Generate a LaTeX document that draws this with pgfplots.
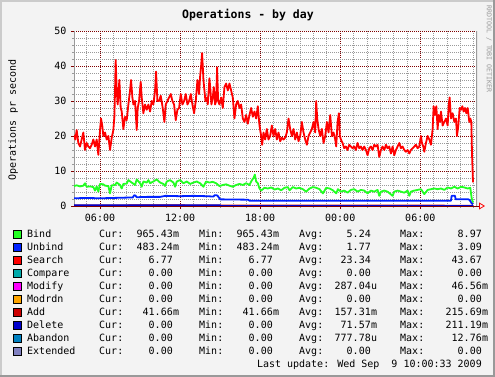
\documentclass[border=0pt]{standalone}
\usepackage{fontspec}
\setmainfont{DejaVu Sans Mono}
\usepackage{pgfplots}
\pgfplotsset{compat=1.18}
\usetikzlibrary{arrows.meta}
\definecolor{bgc}{HTML}{F3F3F3}
\definecolor{shA}{HTML}{CBCBCB}
\definecolor{shB}{HTML}{999999}
\definecolor{mgrid}{HTML}{800000}
\definecolor{ngrid}{HTML}{9A9A9A}
\definecolor{cBind}{HTML}{22FF22}
\definecolor{cUnbind}{HTML}{0022FF}
\definecolor{cSearch}{HTML}{FF0000}
\definecolor{cCompare}{HTML}{00AAAA}
\definecolor{cModify}{HTML}{FF00FF}
\definecolor{cModrdn}{HTML}{FFA500}
\definecolor{cAdd}{HTML}{CC0000}
\definecolor{cDelete}{HTML}{0000CC}
\definecolor{cAbandon}{HTML}{0080C0}
\definecolor{cExtended}{HTML}{8080C0}
\newcommand\lf{\fontsize{10}{12}\selectfont}
% row: k, colour, name, cur, min, avg, max  (value written as number|suffix)
\newcommand\legrow[7]{%
  \pgfmathsetmacro\by{237+13*#1}%
  \fill[#2] (13,\by-7) rectangle (21,\by+1);
  \draw[black,line width=0.8pt] (13,\by-7) rectangle (21,\by+1);
  \node[anchor=base west,inner sep=0] at (27,\by) {\lf #3};
  \node[anchor=base west,inner sep=0] at (99,\by) {\lf Cur:};
  \node[anchor=base west,inner sep=0] at (199,\by) {\lf Min:};
  \node[anchor=base west,inner sep=0] at (299,\by) {\lf Avg:};
  \node[anchor=base west,inner sep=0] at (400,\by) {\lf Max:};
  \splitval{173}{\by}#4|%
  \splitval{273}{\by}#5|%
  \splitval{371}{\by}#6|%
  \splitval{482}{\by}#7|%
}
\def\splitval#1#2#3|#4|{%
  \node[anchor=base east,inner sep=0] at (#1,#2) {\lf #3};
  \node[anchor=base west,inner sep=0] at (#1,#2) {\lf #4\strut};
}
\begin{document}
\begin{tikzpicture}
\begin{scope}[x=1pt,y=-1pt]
\path[use as bounding box] (0,0) rectangle (495,377);
\fill[bgc] (0,0) rectangle (495,377);
\fill[shA] (0,0) rectangle (495,2);
\fill[shA] (0,0) rectangle (2,377);
\fill[shB] (0,375) rectangle (495,377);
\fill[shB] (493,0) rectangle (495,377);
\node[anchor=base,inner sep=0] at (248,19) {\fontsize{11.5}{13}\selectfont\bfseries Operations - by day};
\node[rotate=90,inner sep=0] at (13,120) {\lf Operations pr second};
\node[rotate=-90,inner sep=0,text=ngrid] at (489,49) {\fontsize{6.6}{8}\selectfont RRDTOOL / TOBI OETIKER};
\end{scope}
\begin{axis}[
  at={(74pt,-31pt)}, anchor=north west, scale only axis,
  width=403pt, height=175pt,
  xmin=4.05, xmax=34.25, ymin=0, ymax=50,
  axis x line=bottom, axis y line=left,
  x axis line style={draw=mgrid, line width=0.8pt, -{Triangle[open,color=red,length=6pt,width=7pt]}, shorten >=-8pt},
  y axis line style={draw=ngrid, line width=0.8pt, -},
  xtick={6,12,18,24,30},
  xticklabels={06:00,12:00,18:00,00:00,06:00},
  minor xtick={5,7,8,9,10,11,13,14,15,16,17,19,20,21,22,23,25,26,27,28,29,31,32,33,34},
  ytick={0,10,20,30,40,50},
  minor ytick={2,4,6,8,12,14,16,18,22,24,26,28,32,34,36,38,42,44,46,48},
  grid=both,
  major grid style={draw=mgrid, line width=0.8pt, dash pattern=on 1pt off 1pt},
  minor grid style={draw=ngrid, line width=0.8pt, dash pattern=on 1pt off 1pt},
  tick align=outside,
  major tick length=3pt, minor tick length=2pt,
  major tick style={draw=mgrid, line width=0.8pt},
  minor tick style={draw=ngrid, line width=0.8pt},
  tick label style={font=\fontsize{10}{12}\selectfont, /pgf/number format/assume math mode=true},
  yticklabel style={xshift=-1pt},
  xticklabel style={yshift=-2pt},
  axis background/.style={fill=white},
  line join=round,
]
\addplot[cBind, line width=1.8pt] coordinates {
(4.05,5.7)(4.25,5.9)(4.5,5.6)(4.75,5.8)(4.875,6.5)(5.0,5.5)(5.25,5.6)(5.5,5.4)(5.625,4.4)(5.75,5.6)(5.875,4.1)
(6.0,6.3)(6.25,6.2)(6.375,5.8)(6.625,5.7)(6.75,3.6)(6.875,5.9)(7.125,6.0)(7.25,6.7)(7.5,6.0)(7.625,5.0)(7.75,6.3)
(8.0,6.4)(8.125,7.4)(8.375,6.7)(8.625,6.0)(8.75,7.6)(9.0,6.5)(9.125,5.5)(9.25,7.0)(9.5,6.7)(9.625,7.4)(9.75,6.5)
(10.0,7.0)(10.25,7.6)(10.5,6.7)(10.75,6.3)(10.875,5.7)(11.0,7.0)(11.25,7.4)(11.5,6.7)(11.625,5.5)(11.75,7.0)
(12.0,7.4)(12.25,6.5)(12.5,7.0)(12.75,6.3)(13.0,6.7)(13.25,7.0)(13.5,6.5)(13.75,5.5)(13.95,7.0)(14.2,6.7)(14.45,6.9)
(14.7,6.5)(14.95,5.7)(15.2,6.0)(15.45,6.2)(15.7,5.8)(15.95,5.5)(16.2,6.0)(16.45,6.3)(16.7,6.0)(16.95,6.5)(17.2,6.0)
(17.325,7.0)(17.5,8.0)(17.6,8.97)(17.7,7.0)(17.825,6.5)(17.95,5.0)(18.075,4.4)(18.325,5.2)(18.575,5.0)(18.825,5.3)
(19.075,4.7)(19.325,5.0)(19.575,4.5)(19.825,5.2)(20.075,5.4)(20.2,4.5)(20.45,5.4)(20.7,5.0)(20.95,5.2)(21.2,4.8)
(21.45,4.1)(21.7,5.0)(21.95,5.4)(22.2,5.2)(22.45,4.8)(22.7,3.6)(22.95,5.2)(23.2,5.0)(23.45,4.5)(23.7,3.6)(23.825,4.8)
(24.05,4.1)(24.3,4.4)(24.55,3.8)(24.8,4.6)(25.05,4.8)(25.3,4.1)(25.55,4.6)(25.8,4.4)(26.05,3.6)(26.3,4.4)(26.55,4.1)
(26.8,4.6)(26.925,2.9)(27.05,4.1)(27.3,4.4)(27.55,4.1)(27.925,2.9)(28.05,4.1)(28.3,4.4)(28.55,4.1)(28.8,3.8)(29.05,4.4)
(29.175,2.9)(29.3,4.1)(29.55,4.4)(29.8,4.6)(30.05,4.8)(30.3,3.4)(30.55,4.6)(30.8,4.8)(31.05,5.0)(31.3,4.8)(31.55,5.0)
(31.8,4.6)(32.05,5.3)(32.3,5.0)(32.55,5.5)(32.8,5.0)(33.05,5.5)(33.3,5.3)(33.55,5.0)(33.75,5.2)(33.85,2.2)(33.95,0.97)
};
\addplot[cUnbind, line width=1.8pt] coordinates {
(4.05,2.2)(5.0,2.3)(6.0,2.2)(7.0,2.3)(8.0,2.4)(8.45,2.4)(8.55,3.05)(8.65,3.0)(8.75,2.5)(9.5,2.6)(10.5,2.6)(10.9,2.9)
(12.0,2.8)(13.0,2.9)(14.0,2.8)(14.5,2.7)(14.6,3.1)(14.8,3.0)(15.0,1.9)(17.1,1.8)(17.2,1.5)(32.3,1.5)(32.35,2.9)
(32.6,2.9)(32.65,1.9)(33.6,1.9)(33.7,1.7)(33.85,0.76)(33.95,0.48)
};
\addplot[cSearch, line width=1.8pt] coordinates {
(4.05,20.3)(4.15,19)(4.25,21.7)(4.375,18)(4.5,17)(4.625,19)(4.75,21)(4.875,16)(5.0,18)(5.125,17)(5.25,16.5)
(5.375,17.5)(5.5,19)(5.625,17)(5.75,19)(5.875,14.6)(6.0,21.7)(6.075,25)(6.175,22.7)(6.25,20)(6.375,21)(6.5,19)
(6.625,20)(6.75,16)(6.875,19.5)(7.0,21.7)(7.075,25.5)(7.125,33)(7.175,41.7)(7.25,33)(7.325,29)(7.45,36)(7.55,28)
(7.625,27)(7.75,22)(7.875,25.5)(8.0,24.5)(8.125,29)(8.25,33)(8.325,36)(8.425,31)(8.5,29)(8.625,30)(8.75,21.7)
(8.825,28)(8.925,30)(9.05,35.5)(9.125,31)(9.25,26.5)(9.375,29)(9.5,27.5)(9.625,29)(9.75,27)(9.875,30)(10.0,29)
(10.125,33)(10.2,38.4)(10.3,30)(10.425,30)(10.55,31.5)(10.7,28)(10.825,24)(10.925,29)(11.05,30)(11.175,31)(11.3,32)
(11.425,30)(11.55,29)(11.675,24.5)(11.8,27.5)(11.925,28)(12.05,32)(12.175,29)(12.3,30)(12.425,32)(12.55,29)(12.675,30)
(12.8,32)(12.925,29)(13.05,26.5)(13.175,30)(13.3,36)(13.425,32)(13.5,37)(13.575,40)(13.65,43.7)(13.75,36)(13.825,33)
(13.9,30)(14.0,31)(14.075,29)(14.2,36.5)(14.275,33)(14.35,29)(14.45,31)(14.525,34)(14.625,29)(14.7,30)(14.775,39.6)
(14.85,30)(14.95,29)(15.075,31)(15.2,28)(15.325,34)(15.45,35)(15.575,33)(15.7,35)(15.825,33)(15.95,31)(16.075,25)
(16.2,29)(16.325,30)(16.45,28)(16.575,29)(16.7,25)(16.825,24)(16.95,26)(17.075,23.5)(17.2,26)(17.325,28)(17.45,25.5)
(17.575,27)(17.7,25)(17.825,28.5)(17.95,23)(18.075,20)(18.15,17.5)(18.25,21)(18.375,19)(18.5,22)(18.625,19)(18.75,20)
(18.875,23)(19.0,20)(19.125,22)(19.25,19)(19.375,21)(19.5,18.5)(19.625,19.5)(19.75,19)(19.875,19.5)(20.0,21)
(20.125,25)(20.25,22)(20.375,20)(20.5,22)(20.625,19)(20.75,21)(20.875,18.5)(21.0,20)(21.125,24)(21.25,21)(21.375,19)
(21.5,17.5)(21.625,20)(21.75,21)(21.875,22)(22.0,24)(22.125,21)(22.2,30)(22.275,25)(22.375,22)(22.5,20)(22.625,22)
(22.75,18)(22.875,20)(23.0,24)(23.125,21)(23.25,26)(23.375,20)(23.5,21)(23.625,19)(23.7,17)(23.8,24)(23.9,26.5)
(23.975,20)(24.05,19)(24.175,18)(24.3,16.5)(24.425,17)(24.55,16)(24.675,17.5)(24.8,17)(24.925,16.5)(25.05,17)
(25.175,16)(25.3,18)(25.425,16.5)(25.55,17)(25.675,16)(25.8,17)(25.925,16)(26.05,14.5)(26.175,16.5)(26.3,17)(26.425,16)
(26.55,17.5)(26.675,17)(26.8,17.5)(26.925,14)(27.05,16)(27.175,17)(27.3,16)(27.425,17.5)(27.55,16.5)(27.675,17)
(27.8,15)(27.925,17)(28.05,14.5)(28.175,16)(28.3,17)(28.425,18)(28.55,16.5)(28.675,17)(28.8,16)(28.925,15.5)(29.05,16)
(29.175,15)(29.3,16)(29.425,16.5)(29.55,17)(29.675,17.5)(29.8,16.5)(29.925,17)(30.05,20)(30.125,18)(30.225,17)
(30.3,15.5)(30.425,18)(30.55,20)(30.675,19)(30.8,17.5)(30.925,22)(31.0,28.5)(31.1,26)(31.2,28.5)(31.3,22)(31.375,26)
(31.475,24)(31.55,27)(31.675,23)(31.8,24)(31.925,25)(32.05,23)(32.125,28.5)(32.2,31)(32.3,25)(32.425,26.5)(32.55,24)
(32.675,25)(32.75,20)(32.85,23)(32.95,28)(33.05,27.5)(33.15,28.5)(33.25,27)(33.35,28)(33.45,26.5)(33.55,28)
(33.675,24)(33.75,25)(33.825,24)(33.875,15)(33.95,6.77)
};
\addplot[cAdd, line width=1.8pt] coordinates {
(4.05,0.15)(10,0.18)(15,0.16)(20,0.15)(25,0.15)(30,0.15)(33.95,0.04)
};
\addplot[cDelete, line width=1.8pt] coordinates {
(4.05,0.21)(15.0,0.21)(15.05,0)(33.95,0)
};
\draw[ngrid, line width=1.5pt] (rel axis cs:1,0) -- (rel axis cs:1,1);
\end{axis}
\begin{scope}[x=1pt,y=-1pt]
\legrow{0}{cBind}{Bind}{965.43|m}{965.43|m}{5.24|}{8.97|}
\legrow{1}{cUnbind}{Unbind}{483.24|m}{483.24|m}{1.77|}{3.09|}
\legrow{2}{cSearch}{Search}{6.77|}{6.77|}{23.34|}{43.67|}
\legrow{3}{cCompare}{Compare}{0.00|}{0.00|}{0.00|}{0.00|}
\legrow{4}{cModify}{Modify}{0.00|}{0.00|}{287.04|u}{46.56|m}
\legrow{5}{cModrdn}{Modrdn}{0.00|}{0.00|}{0.00|}{0.00|}
\legrow{6}{cAdd}{Add}{41.66|m}{41.66|m}{157.31|m}{215.69|m}
\legrow{7}{cDelete}{Delete}{0.00|}{0.00|}{71.57|m}{211.19|m}
\legrow{8}{cAbandon}{Abandon}{0.00|}{0.00|}{777.78|u}{12.76|m}
\legrow{9}{cExtended}{Extended}{0.00|}{0.00|}{0.00|}{0.00|}
\node[anchor=base east,inner sep=0] at (482,367) {\lf Last update: Wed Sep~~9 10:00:33 2009};
\end{scope}
\end{tikzpicture}
\end{document}
